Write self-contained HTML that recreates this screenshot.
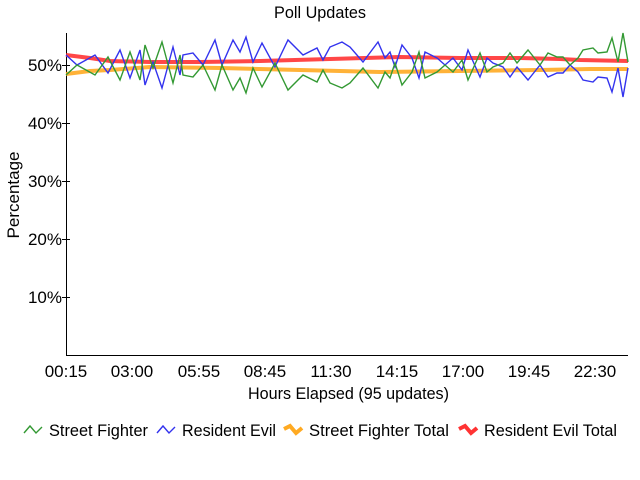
<!DOCTYPE html>
<html><head><style>body{margin:0;background:#fff}svg{display:block}text{font-family:"Liberation Sans Narrow","Liberation Sans",sans-serif;fill:#000}</style></head><body>
<svg width="640" height="480" xmlns="http://www.w3.org/2000/svg">
<text x="274" y="18" font-size="17" textLength="92" lengthAdjust="spacingAndGlyphs">Poll Updates</text>
<g font-size="17" text-anchor="end">
<text x="62" y="71">50%</text><text x="62" y="129">40%</text><text x="62" y="187">30%</text><text x="62" y="245">20%</text><text x="62" y="303">10%</text>
</g>
<g stroke="#000" stroke-width="1">
<line x1="66.5" y1="33" x2="66.5" y2="355"/><line x1="66" y1="355.5" x2="628" y2="355.5"/>
<line x1="62" y1="65.5" x2="70" y2="65.5"/><line x1="62" y1="123.5" x2="70" y2="123.5"/><line x1="62" y1="181.5" x2="70" y2="181.5"/><line x1="62" y1="239.5" x2="70" y2="239.5"/><line x1="62" y1="297.5" x2="70" y2="297.5"/>
</g>
<g font-size="17" text-anchor="middle">
<text x="66" y="377">00:15</text><text x="132" y="377">03:00</text><text x="199" y="377">05:55</text><text x="265" y="377">08:45</text><text x="331" y="377">11:30</text><text x="397" y="377">14:15</text><text x="463" y="377">17:00</text><text x="529" y="377">19:45</text><text x="595" y="377">22:30</text>
</g>
<text x="248" y="399" font-size="17" textLength="201" lengthAdjust="spacingAndGlyphs">Hours Elapsed (95 updates)</text>
<text transform="translate(19,195) rotate(-90)" font-size="17" text-anchor="middle">Percentage</text>
<polyline fill="none" stroke="#ff3333" stroke-opacity="0.9" stroke-width="4" points="66,55 90,58 110,61 150,62 200,62 260,61 330,59 400,57 460,58 520,58 560,59 580,60 628,61"/>
<polyline fill="none" stroke="#ffaa22" stroke-opacity="0.9" stroke-width="4" points="66,74 90,71 110,70 150,67 220,68 300,70 380,72 460,71 540,70 590,69 628,69"/>
<polyline fill="none" stroke="#3333ee" stroke-width="1.4" points="66,55 77,65 95,55 108,73 120,50 130,78 140,50 145,85 153,62 162,88 173,47 180,75 183,55 193,53 203,65 215,40 222,65 233,40 240,52 246,37 253,62 262,43 275,67 288,40 303,55 317,48 323,60 330,47 342,42 350,47 363,62 378,42 385,58 390,52 395,67 402,45 412,58 419,78 425,52 437,58 445,65 453,58 462,70 468,50 480,77 487,58 493,63 503,67 510,77 517,67 528,80 540,65 548,77 557,73 563,73 570,65 578,72 583,80 593,82 598,77 607,78 612,92 618,68 623,97 628,68"/>
<polyline fill="none" stroke="#339933" stroke-width="1.4" points="66,75 77,65 95,75 108,57 120,80 130,52 140,80 145,45 153,68 162,42 173,83 180,55 183,75 193,77 203,65 215,90 222,65 233,90 240,78 246,93 253,68 262,87 275,63 288,90 303,75 317,82 323,70 330,83 342,88 350,83 363,68 378,88 385,72 390,78 395,63 402,85 412,72 419,52 425,78 437,72 445,65 453,72 462,60 468,80 480,53 487,72 493,67 503,63 510,53 517,63 528,50 540,65 548,53 557,57 563,57 570,65 578,58 583,50 593,48 598,53 607,52 612,38 618,62 623,33 628,62"/>
<g font-size="17">
<polyline fill="none" stroke="#339933" stroke-width="1.4" points="24,433 30,426 36,433 42,427"/><text x="49" y="436" textLength="99" lengthAdjust="spacingAndGlyphs">Street Fighter</text>
<polyline fill="none" stroke="#3333ee" stroke-width="1.4" points="157,433 163,426 169,433 175,427"/><text x="182" y="436" textLength="94" lengthAdjust="spacingAndGlyphs">Resident Evil</text>
<polyline fill="none" stroke="#ffaa22" stroke-width="4" points="284,429 290,426 296,433 302,428"/><text x="309" y="436" textLength="140" lengthAdjust="spacingAndGlyphs">Street Fighter Total</text>
<polyline fill="none" stroke="#ff3333" stroke-width="4" points="459,429 465,426 471,433 477,428"/><text x="484" y="436" textLength="133" lengthAdjust="spacingAndGlyphs">Resident Evil Total</text>
</g>
</svg>
</body></html>
